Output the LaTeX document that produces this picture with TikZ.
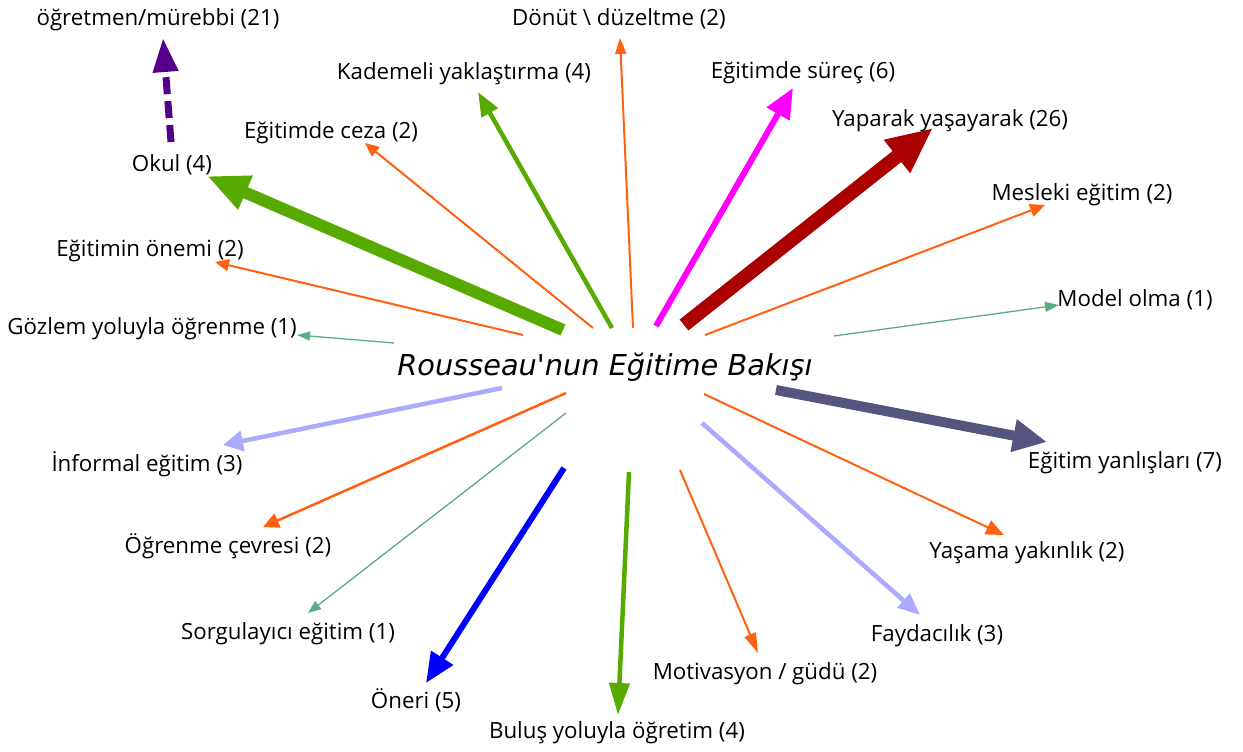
\documentclass[tikz,border=0pt]{standalone}
\usepackage{fontspec}
\setmainfont{Open Sans}
\newfontfamily\titlefont{DejaVu Sans}
\usetikzlibrary{arrows.meta}
\definecolor{cOr}{HTML}{FF6111}
\definecolor{cGr}{HTML}{57AA00}
\definecolor{cTe}{HTML}{5AAD82}
\definecolor{cLa}{HTML}{AAAAFF}
\definecolor{cMa}{HTML}{FF00FF}
\definecolor{cRe}{HTML}{AA0000}
\definecolor{cBl}{HTML}{0000FF}
\definecolor{cSl}{HTML}{55557F}
\definecolor{cPu}{HTML}{550088}
\begin{document}
\begin{tikzpicture}[x=1pt,y=-1pt,
  lbl/.style={font=\fontsize{22.3}{26}\selectfont, inner sep=0pt, text height=16pt, text depth=0pt, anchor=center},
  ttl/.style={font=\titlefont\itshape\fontsize{28.8}{34}\selectfont, inner sep=0pt, text height=21pt, text depth=0pt, anchor=center},
  link/.style={line cap=butt}]
\useasboundingbox (0,0) rectangle (1243,752);
% labels
\node[lbl] (ogretmen) at (158,18) {öğretmen/mürebbi (21)};
\node[lbl] (donut) at (619,18) {Dönüt \textbackslash{} düzeltme (2)};
\node[lbl] (kademeli) at (464,72) {Kademeli yaklaştırma (4)};
\node[lbl] (surec) at (803,70) {Eğitimde süreç (6)};
\node[lbl] (ceza) at (331,130) {Eğitimde ceza (2)};
\node[lbl] (yaparak) at (950,118) {Yaparak yaşayarak (26)};
\node[lbl] (okul) at (172,163) {Okul (4)};
\node[lbl] (mesleki) at (1082,192) {Mesleki eğitim (2)};
\node[lbl] (onemi) at (150,248) {Eğitimin önemi (2)};
\node[lbl] (model) at (1135,298) {Model olma (1)};
\node[lbl] (gozlem) at (152,326) {Gözlem yoluyla öğrenme (1)};
\node[ttl] (center) at (605,365) {Rousseau'nun Eğitime Bakışı};
\node[lbl] (informal) at (147,463) {İnformal eğitim (3)};
\node[lbl] (yanlis) at (1125,460) {Eğitim yanlışları (7)};
\node[lbl] (cevre) at (228,545) {Öğrenme çevresi (2)};
\node[lbl] (yasama) at (1027,550) {Yaşama yakınlık (2)};
\node[lbl] (sorgu) at (288,631) {Sorgulayıcı eğitim (1)};
\node[lbl] (fayda) at (937,633) {Faydacılık (3)};
\node[lbl] (motiv) at (765,671) {Motivasyon / güdü (2)};
\node[lbl] (oneri) at (416,700) {Öneri (5)};
\node[lbl] (bulus) at (617,730) {Buluş yoluyla öğretim (4)};
% start and tip coordinates
\coordinate (sOkul) at (563,330);   \coordinate (tOkul) at (207,176);
\coordinate (sOgr) at (171,142);    \coordinate (tOgr) at (163,38);
\coordinate (sCeza) at (593,328);   \coordinate (tCeza) at (365,143);
\coordinate (sKad) at (612,328);    \coordinate (tKad) at (478,92);
\coordinate (sDon) at (633,328);    \coordinate (tDon) at (620,38);
\coordinate (sSur) at (656,326);    \coordinate (tSur) at (793,88);
\coordinate (sYap) at (684,325);    \coordinate (tYap) at (933,128);
\coordinate (sMes) at (705,335);    \coordinate (tMes) at (1045,205);
\coordinate (sMod) at (834,336);    \coordinate (tMod) at (1059,305);
\coordinate (sOne) at (523,335);    \coordinate (tOne) at (215,262);
\coordinate (sGoz) at (394,343);    \coordinate (tGoz) at (297,335);
\coordinate (sInf) at (502,388);    \coordinate (tInf) at (223,445);
\coordinate (sCev) at (566,393);    \coordinate (tCev) at (263,527);
\coordinate (sSor) at (566,413);    \coordinate (tSor) at (308,613);
\coordinate (sOnr) at (564,468);    \coordinate (tOnr) at (426,683);
\coordinate (sBul) at (629,472);    \coordinate (tBul) at (618,715);
\coordinate (sMot) at (680,470);    \coordinate (tMot) at (758,653);
\coordinate (sFay) at (702,423);    \coordinate (tFay) at (920,615);
\coordinate (sYas) at (704,394);    \coordinate (tYas) at (1004,535);
\coordinate (sYan) at (776,390);    \coordinate (tYan) at (1047,442);
% connectors
\draw[link, cGr, line width=12pt, -{Triangle[length=42pt,width=34pt]}] (sOkul) -- (tOkul);
\draw[link, cPu, line width=7pt, dash pattern=on 17pt off 7pt, -{Triangle[length=34pt,width=24pt]}] (sOgr) -- (tOgr);
\draw[link, cOr, line width=2pt, -{Triangle[length=14pt,width=12pt]}] (sCeza) -- (tCeza);
\draw[link, cGr, line width=4.5pt, -{Triangle[length=24pt,width=18pt]}] (sKad) -- (tKad);
\draw[link, cOr, line width=2pt, -{Triangle[length=16pt,width=11pt]}] (sDon) -- (tDon);
\draw[link, cMa, line width=6pt, -{Triangle[length=30pt,width=25pt]}] (sSur) -- (tSur);
\draw[link, cRe, line width=14pt, -{Triangle[length=46pt,width=39pt]}] (sYap) -- (tYap);
\draw[link, cOr, line width=2pt, -{Triangle[length=15pt,width=13pt]}] (sMes) -- (tMes);
\draw[link, cTe, line width=1.3pt, -{Triangle[length=14pt,width=10pt]}] (sMod) -- (tMod);
\draw[link, cOr, line width=2pt, -{Triangle[length=14pt,width=12pt]}] (sOne) -- (tOne);
\draw[link, cTe, line width=1.3pt, -{Triangle[length=13pt,width=9pt]}] (sGoz) -- (tGoz);
\draw[link, cLa, line width=4.5pt, -{Triangle[length=20pt,width=20pt]}] (sInf) -- (tInf);
\draw[link, cOr, line width=2.5pt, -{Triangle[length=16pt,width=15pt]}] (sCev) -- (tCev);
\draw[link, cTe, line width=1.3pt, -{Triangle[length=13pt,width=10pt]}] (sSor) -- (tSor);
\draw[link, cBl, line width=6pt, -{Triangle[length=30pt,width=25pt]}] (sOnr) -- (tOnr);
\draw[link, cGr, line width=4.5pt, -{Triangle[length=32pt,width=20pt]}] (sBul) -- (tBul);
\draw[link, cOr, line width=2pt, -{Triangle[length=20pt,width=12pt]}] (sMot) -- (tMot);
\draw[link, cLa, line width=4.5pt, -{Triangle[length=22pt,width=18pt]}] (sFay) -- (tFay);
\draw[link, cOr, line width=2pt, -{Triangle[length=18pt,width=15pt]}] (sYas) -- (tYas);
\draw[link, cSl, line width=10pt, -{Triangle[length=34pt,width=31pt]}] (sYan) -- (tYan);
\end{tikzpicture}
\end{document}
